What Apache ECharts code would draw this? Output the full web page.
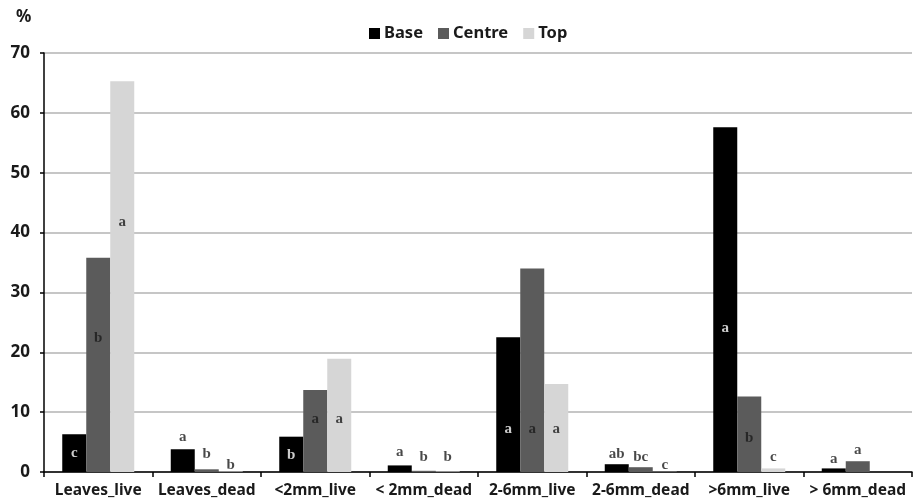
<!DOCTYPE html>
<html>
<head>
<meta charset="utf-8">
<script src="https://cdn.jsdelivr.net/npm/echarts@6/dist/echarts.min.js"></script>
<style>
  html, body { margin: 0; padding: 0; background: #fff; }
  #chart { width: 915px; height: 502px; }
</style>
</head>
<body>
<div id="chart"></div>
<script>
// Biomass fractions (%) by crown section
const categories = ['Leaves_live', 'Leaves_dead', '<2mm_live', '< 2mm_dead', '2-6mm_live', '2-6mm_dead', '>6mm_live', '> 6mm_dead'];
const seriesNames = ['Base', 'Centre', 'Top'];
const baseValues   = [6.3, 3.8, 5.9, 1.1, 22.5, 1.3, 57.6, 0.6];
const centreValues = [35.8, 0.45, 13.7, 0.2, 34.0, 0.8, 12.6, 1.8];
const topValues    = [65.3, 0.1, 18.9, 0.1, 14.7, 0.05, 0.6, 0];

// Significance letters for each bar
const baseLetters   = ['c', 'a', 'b', 'a', 'a', 'ab', 'a', 'a'];
const centreLetters = ['b', 'b', 'a', 'b', 'a', 'bc', 'b', 'a'];
const topLetters    = ['a', 'b', 'a', 'b', 'a', 'c', 'c', ''];

// Height (in % units) where each letter sits
const baseLetterAt   = [3.2, 5.8, 2.8, 3.3, 7.2, 3.0, 24.0, 2.2];
const centreLetterAt = [22.4, 3.0, 8.8, 2.5, 7.2, 2.5, 5.7, 3.7];
const topLetterAt    = [41.7, 1.2, 8.8, 2.5, 7.2, 1.2, 2.5, 0];

const yTicks = { min: 0, max: 70, interval: 10 };

const colors = ['#000000', '#5b5b5b', '#d6d6d6'];
const BAR_W = 24;

const sansFont = '"Noto Sans", "Open Sans", sans-serif';
const serifFont = '"Liberation Serif", "DejaVu Serif", serif';

const valueSets = [baseValues, centreValues, topValues];
const letterSets = [baseLetters, centreLetters, topLetters];
const letterAtSets = [baseLetterAt, centreLetterAt, topLetterAt];

const barSeries = seriesNames.map((name, i) => ({
  name: name,
  type: 'bar',
  barWidth: BAR_W,
  barGap: '0%',
  itemStyle: { color: colors[i] },
  data: valueSets[i],
  z: 2
}));

// letters drawn on transparent points so their text sits over each bar
const letterSeries = seriesNames.map((name, i) => ({
  name: name + '_letters',
  type: 'scatter',
  symbol: 'circle',
  symbolSize: 2,
  itemStyle: { color: 'rgba(0,0,0,0)' },
  silent: true,
  z: 5,
  data: letterSets[i].map((txt, k) => {
    const inside = letterAtSets[i][k] < valueSets[i][k];
    return {
      value: [k, letterAtSets[i][k]],
      label: {
        show: txt !== '',
        formatter: txt,
        position: 'inside',
        offset: [(i - 1) * BAR_W, 0],
        color: (inside && i === 0) ? '#ffffff' : '#1a1a1a',
        fontFamily: serifFont,
        fontWeight: 'bold',
        fontSize: 15
      }
    };
  })
}));

const chart = echarts.init(document.getElementById('chart'), null, { renderer: 'canvas' });
chart.setOption({
  animation: false,
  backgroundColor: '#ffffff',
  color: colors,
  grid: { left: 44, right: 3, top: 53, bottom: 30, containLabel: false },
  legend: {
    data: seriesNames,
    left: 364,
    top: 20,
    itemWidth: 11,
    itemHeight: 11,
    itemGap: 15,
    icon: 'rect',
    textStyle: { fontFamily: sansFont, fontWeight: 'bold', fontSize: 16.5, color: '#1a1a1a', padding: [0, 0, 0, -1] }
  },
  graphic: [{
    type: 'text',
    left: 16,
    top: 9,
    style: { text: '%', font: 'bold 17px ' + sansFont, fill: '#1a1a1a' }
  }],
  xAxis: {
    type: 'category',
    data: categories,
    axisLine: { lineStyle: { color: '#000', width: 1.5 } },
    axisTick: { show: true, alignWithLabel: false, length: 5, lineStyle: { color: '#000', width: 1.5 } },
    axisLabel: { interval: 0, margin: 11, fontFamily: sansFont, fontWeight: 'bold', fontSize: 15.5, color: '#1a1a1a' }
  },
  yAxis: {
    type: 'value',
    min: yTicks.min,
    max: yTicks.max,
    interval: yTicks.interval,
    axisLine: { show: true, lineStyle: { color: '#000', width: 1.5 } },
    axisTick: { show: true, length: 4, lineStyle: { color: '#000', width: 1.5 } },
    axisLabel: { margin: 14, fontFamily: sansFont, fontWeight: 'bold', fontSize: 17, color: '#1a1a1a' },
    splitLine: { show: true, lineStyle: { color: '#b3b3b3', width: 1.5 } }
  },
  series: barSeries.concat(letterSeries)
});
</script>
</body>
</html>
